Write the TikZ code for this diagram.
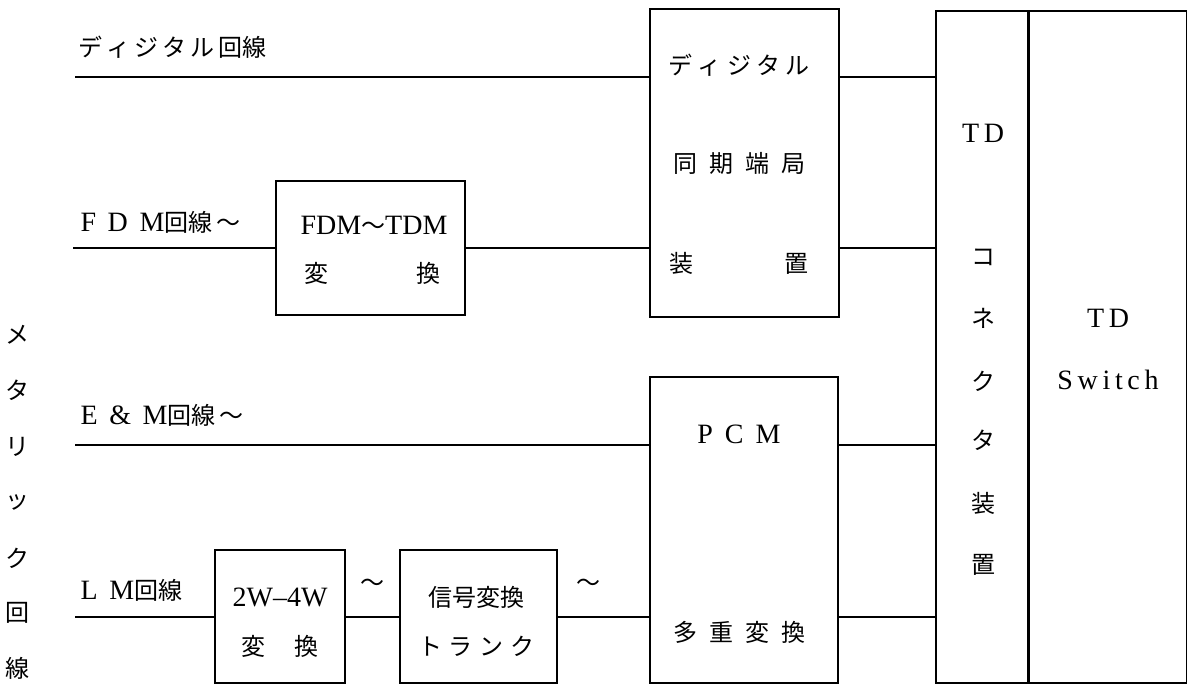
\documentclass[tikz,border=0pt]{standalone}
\usepackage{fontspec}
\setmainfont{Liberation Serif}
\newfontfamily\jp{Noto Sans CJK JP}
\newcommand{\jtext}[1]{{\jp\fontsize{18}{20}\selectfont #1}}
\tikzset{every picture/.style={line width=0.75pt}}
\begin{document}
\begin{tikzpicture}[x=0.75pt,y=0.75pt,yscale=-1,xscale=1,
  blk/.style={draw,line width=1.2pt,inner sep=0pt},
  wire/.style={line width=1.2pt},
  lbl/.style={inner sep=0.75pt,font=\fontsize{21}{22}\selectfont},
  jtx/.style={inner sep=0.75pt,font=\jp\fontsize{18}{20}\selectfont}]
\useasboundingbox (0,0) rectangle (1187,685);

%Shape: Rectangle [digital sync terminal]
\node[blk,minimum width=141.75pt,minimum height=231pt] (dig) at (744.5,163) {};
%Shape: Rectangle [FDM-TDM]
\node[blk,minimum width=141.75pt,minimum height=100.5pt] (fdm) at (370.5,248) {};
%Shape: Rectangle [PCM]
\node[blk,minimum width=141pt,minimum height=229.5pt] (pcm) at (744,530) {};
%Shape: Rectangle [2W-4W]
\node[blk,minimum width=97.5pt,minimum height=99.75pt] (wtw) at (280,616.5) {};
%Shape: Rectangle [signal trunk]
\node[blk,minimum width=117.75pt,minimum height=99.75pt] (sig) at (478.5,616.5) {};
%Shape: Rectangle [TD connector]
\node[blk,minimum width=69pt,minimum height=504pt] (con) at (982,347) {};
%Shape: Rectangle [TD switch]
\node[blk,minimum width=117.75pt,minimum height=504pt,anchor=west] (sw) at (con.east) {};

% line ends
\coordinate (dl) at (75,77);
\coordinate (fl) at (73,248);
\coordinate (el) at (75,445);
\coordinate (ll) at (75,617);

%Straight Lines
\draw[wire] (dl) -- (dl -| dig.west);
\draw[wire] (dig.east |- dl) -- (con.west |- dl);
%Straight Lines
\draw[wire] (fl) -- (fdm.west);
\draw[wire] (fdm.east) -- (fdm.east -| dig.west);
\draw[wire] (dig.east |- fl) -- (con.west |- fl);
%Straight Lines
\draw[wire] (el) -- (el -| pcm.west);
\draw[wire] (pcm.east |- el) -- (con.west |- el);
%Straight Lines
\draw[wire] (ll) -- (ll -| wtw.west);
\draw[wire] (wtw.east |- ll) -- (sig.west |- ll);
\draw[wire] (sig.east |- ll) -- (pcm.west |- ll);
\draw[wire] (pcm.east |- ll) -- (con.west |- ll);

% Text Node
\node[jtx,anchor=west] (dlt) at (77,47) {デ\,ィ\,ジ\,タ\,ル\,回線};
% Text Node
\node[lbl,anchor=west] (flt) at (79,222) {F\, D\, M\jtext{回線\,～}};
% Text Node
\node[lbl,anchor=west] (elt) at (79,415) {E\, \&\, M\jtext{回線\,～}};
% Text Node
\node[lbl,anchor=west] (llt) at (79,590) {L\, M\jtext{回線}};

% Text Node
\node[jtx] (digt1) at (739,65) {デ\hspace{4pt}ィ\hspace{4pt}ジ\hspace{4pt}タ\hspace{4pt}ル};
\node[jtx] (digt2) at (739,163) {同\hspace{9pt}期\hspace{9pt}端\hspace{9pt}局};
\node[jtx] (digt3) at (739,263) {装\hspace{68pt}置};
% Text Node
\node[lbl] (fdmt1) at (374,225) {FDM\jtext{～}TDM};
\node[jtx] (fdmt2) at (372,273) {変\hspace{66pt}換};
% Text Node
\node[lbl] (pcmt1) at (739,434) {P\hspace{9pt}C\hspace{9pt}M};
\node[jtx] (pcmt2) at (739,632) {多\hspace{9pt}重\hspace{9pt}変\hspace{9pt}換};
% Text Node
\node[lbl] (wtwt1) at (280,597) {2W--4W};
\node[jtx] (wtwt2) at (280,646) {変\hspace{22pt}換};
% Text Node
\node[jtx] (sigt1) at (476,597) {信号変換};
\node[jtx] (sigt2) at (476,646) {ト\hspace{5pt}ラ\hspace{5pt}ン\hspace{5pt}ク};
% Text Node
\node[lbl] (wv1) at (372,585) {\jtext{～}};
\node[lbl] (wv2) at (588,585) {\jtext{～}};

% Text Node
\node[lbl] (cont) at (983,133) {T\,D};
\foreach \ch/\yy in {コ/257,ネ/318,ク/381,タ/440,装/503,置/565}
  \node[jtx] (con\yy) at (983,\yy) {\ch};
% Text Node
\node[lbl] (swt1) at (1108,318) {T\,D};
\node[lbl] (swt2) at (1108,380) {S\,w\,i\,t\,c\,h};

% Text Node
\foreach \ch/\yy in {メ/335,タ/390,リ/447,ッ/502,ク/558,回/613,線/668}
  \node[jtx] (met\yy) at (17,\yy) {\ch};

\end{tikzpicture}
\end{document}
